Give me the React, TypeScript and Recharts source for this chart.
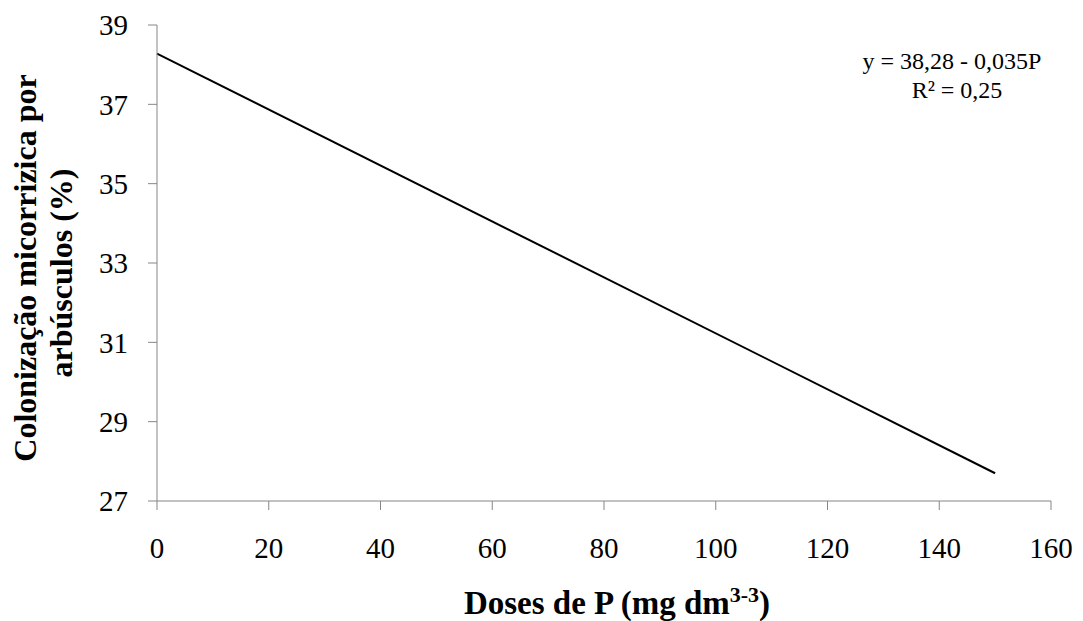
import { LineChart, Line, XAxis, YAxis } from "recharts"

const doses = [0, 150]
const colonizacao = [38.28, 27.7]
const xTicks = [0, 20, 40, 60, 80, 100, 120, 140, 160]
const yTicks = [27, 29, 31, 33, 35, 37, 39]

const data = doses.map((d, i) => ({ dose: d, col: colonizacao[i] }))

const W = 1083
const H = 621
const FONT = "'Liberation Serif', 'Times New Roman', serif"
const AXIS = "#868686"

export default function App() {
  return (
    <div style={{ position: "relative", width: W, height: H, background: "#fff", fontFamily: FONT }}>
      <style>{`body{margin:0}`}</style>
      <LineChart width={W} height={H} data={data} margin={{ top: 25, right: 32, left: 0, bottom: 0 }}>
        <XAxis
          dataKey="dose"
          type="number"
          domain={[0, 160]}
          ticks={xTicks}
          height={120}
          stroke={AXIS}
          tickSize={9}
          tickMargin={27}
          tick={{ fill: "#000", fontSize: 29, fontFamily: FONT }}
          interval={0}
        />
        <YAxis
          type="number"
          domain={[27, 39]}
          ticks={yTicks}
          width={157}
          stroke={AXIS}
          tickSize={9}
          tickMargin={20}
          tick={{ fill: "#000", fontSize: 29, fontFamily: FONT }}
          interval={0}
        />
        <Line
          dataKey="col"
          stroke="#000"
          strokeWidth={2}
          dot={false}
          isAnimationActive={false}
        />
      </LineChart>
      <svg width={W} height={H} style={{ position: "absolute", left: 0, top: 0, pointerEvents: "none" }}>
        <text x={617} y={614} textAnchor="middle" fontSize={33} fontWeight="bold" fontFamily={FONT}>
          Doses de P (mg dm<tspan fontSize={22} dy={-12}>3-3</tspan><tspan dy={12}>)</tspan>
        </text>
        <g transform="translate(0,268) rotate(-90)">
          <text x={0} y={36} textAnchor="middle" fontSize={32} fontWeight="bold" fontFamily={FONT}>
            Colonização micorrizica por
          </text>
          <text x={-5} y={72} textAnchor="middle" fontSize={32} fontWeight="bold" fontFamily={FONT}>
            arbúsculos (%)
          </text>
        </g>
        <text x={952} y={69} textAnchor="middle" fontSize={24} fontFamily={FONT}>
          y = 38,28 - 0,035P
        </text>
        <text x={957} y={98} textAnchor="middle" fontSize={24} fontFamily={FONT}>
          R² = 0,25
        </text>
      </svg>
    </div>
  )
}
